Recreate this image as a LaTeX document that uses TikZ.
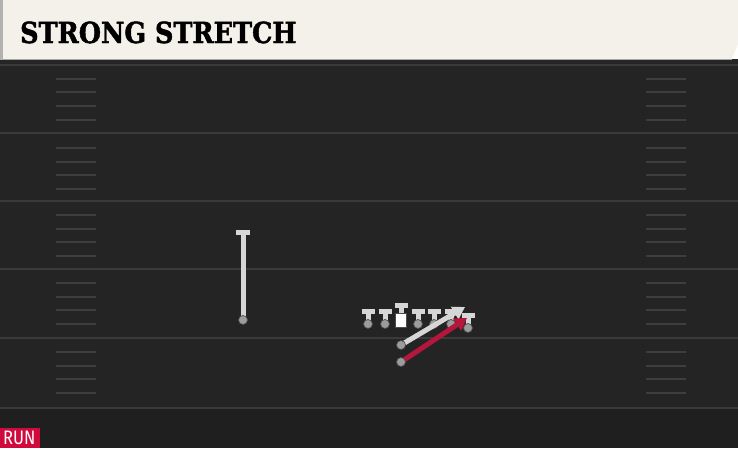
\documentclass[tikz,border=0pt]{standalone}
\usepackage{fontspec}
\usepackage{color}
\usetikzlibrary{calc,arrows.meta}
\newfontfamily\titlefont[BoldFeatures={FakeBold=1.6}]{DejaVu Serif}
\newfontfamily\tagfont{Fira Sans}
\definecolor{fieldbg}{HTML}{242424}
\definecolor{fieldlow}{HTML}{1F1F1F}
\definecolor{yardline}{HTML}{3A3A3A}
\definecolor{hashline}{HTML}{3E3E3E}
\definecolor{cream}{HTML}{F4F1EA}
\definecolor{routegray}{HTML}{D6D6D6}
\definecolor{dotgray}{HTML}{9C9C9C}
\definecolor{runred}{HTML}{B4163C}
\definecolor{tagred}{HTML}{D00A3C}

\begin{document}
\begin{tikzpicture}[%
      x=1pt, y=-1pt,
      yard/.style={color=yardline, line width=2pt},
      hash/.style={color=hashline, line width=2pt},
      block/.style={color=routegray, line width=5pt},
      bar/.style={color=routegray, line width=5pt},
      man/.style={fill=dotgray, draw=black!70, line width=0.7pt},
      route/.style={color=routegray, line width=5pt, -{Triangle[length=12pt,width=14pt]}},
      runroute/.style={color=runred, line width=5pt, -{Triangle[length=12pt,width=14pt]}},
      ]
      \useasboundingbox (0,0) rectangle (738,448);

      % field
      \fill [color=fieldbg] (0,60) rectangle (738,448);
      \fill [color=fieldlow] (0,408) rectangle (738,448);
      \fill [color=black!85] (0,59) rectangle (738,63);
      \draw [yard] (0,65) -- (738,65);
      \draw [yard] (0,133) -- (738,133);
      \draw [yard] (0,201) -- (738,201);
      \draw [yard] (0,269) -- (738,269);
      \draw [yard] (0,338) -- (738,338);
      \draw [yard] (0,408) -- (738,408);
      \foreach \y in {79,92,106,120,148,162,175,189,215,229,242,256,283,297,310,324,352,366,379,393} {
        \draw [hash] (56,\y) -- (96,\y);
        \draw [hash] (646,\y) -- (686,\y);
      }

      % header
      \fill [color=cream] (3,0) -- (738,0) -- (738,44) -- (732,59) -- (3,59) -- cycle;
      \fill [color=black!30] (0,0) rectangle (3,60);
      \draw [color=black!35, line width=0.8pt] (3,59) -- (732,59);
      \node [anchor=base west, inner sep=0pt, xscale=0.88] (title) at (20,43)
        {\titlefont\bfseries\fontsize{29}{29}\selectfont STRONG STRETCH};

      % players
      \coordinate (wr) at (243,320);
      \coordinate (wrtop) at (243,232);
      \coordinate (lt) at (368,324);
      \coordinate (lg) at (385,324);
      \coordinate (c) at (401,320);
      \coordinate (rg) at (418,324);
      \coordinate (rt) at (434,324);
      \coordinate (te) at (451,324);
      \coordinate (wing) at (468,328);
      \coordinate (qb) at (401,345);
      \coordinate (rb) at (401,362);
      \coordinate (qbend) at (465,307);
      \coordinate (rbend) at (467,318);

      % receiver block
      \draw [block] (wr) -- (wrtop);
      \draw [bar] ($(wrtop)+(-7,0)$) -- ($(wrtop)+(7,0)$);
      \filldraw [man] (wr) circle (4.5pt);

      % line
      \foreach \p in {lt,lg,rg,rt,te,wing} {
        \draw [block] (\p) -- ($(\p)+(0,-13)$);
        \draw [bar] ($(\p)+(-6.5,-13)$) -- ($(\p)+(6.5,-13)$);
        \filldraw [man] (\p) circle (4.5pt);
      }
      \draw [block] (c) -- ($(c)+(0,-15)$);
      \draw [bar] ($(c)+(-6.5,-15)$) -- ($(c)+(6.5,-15)$);
      \filldraw [fill=white, draw=black!70, line width=0.7pt] ($(c)+(-5.5,-7)$) rectangle ($(c)+(5.5,7)$);

      % backfield
      \draw [route] (qb) -- (qbend);
      \filldraw [man] (qb) circle (4.5pt);
      \draw [runroute] (rb) -- (rbend);
      \filldraw [man] (rb) circle (4.5pt);

      % tag
      \fill [color=tagred] (0,428) rectangle (40,448);
      \node [anchor=base west, inner sep=0pt, text=white, xscale=0.85] (tag) at (3,444)
        {\tagfont\fontsize{19.5}{19.5}\selectfont RUN};
      \end{tikzpicture}
\end{document}
